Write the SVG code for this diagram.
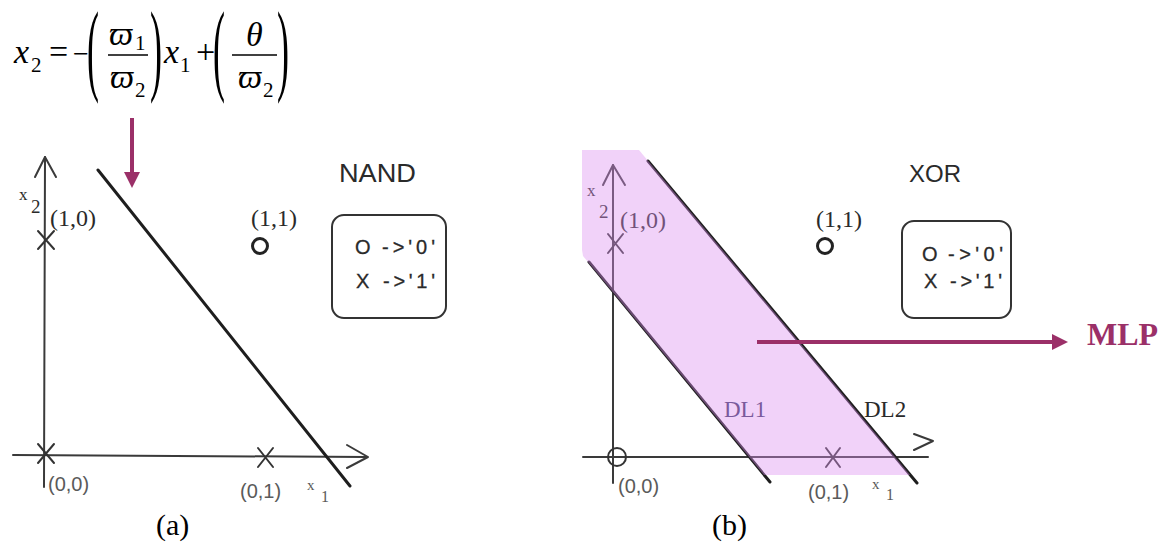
<svg xmlns="http://www.w3.org/2000/svg" width="1162" height="544" viewBox="0 0 1162 544">
<style>
.ax{stroke:#3a3a3a;stroke-width:2;fill:none;stroke-linecap:round;stroke-linejoin:round}
.dl{stroke:#1e1e1e;stroke-width:3;fill:none;stroke-linecap:round}
.mk{stroke:#333;stroke-width:2;fill:none;stroke-linecap:round}
.ser{font-family:"Liberation Serif","DejaVu Serif",serif;fill:#2a2a2a}
.san{font-family:"Liberation Sans","DejaVu Sans",sans-serif;fill:#2a2a2a}
.lg{font-family:"Liberation Sans","DejaVu Sans",sans-serif;fill:#2a2a2a;font-size:20px;stroke:#2a2a2a;stroke-width:0.3}
.grey{fill:#5a5a5a}
.blk{fill:#000}
.purp{fill:#7a5a9c}
.eq{font-family:"Liberation Serif","DejaVu Serif",serif;fill:#000}
.box{fill:none;stroke:#333;stroke-width:2}
.arr{stroke:#9b3068;stroke-width:4;fill:none}
.mlp{font-family:"Liberation Serif","DejaVu Serif",serif;font-weight:bold;fill:#9b3068}
</style>
<defs>
<marker id="ah" viewBox="0 0 16 16" markerWidth="16" markerHeight="16" refX="2" refY="8" orient="auto" markerUnits="userSpaceOnUse">
<path d="M0,0 L16,8 L0,16 z" fill="#9b3068"/>
</marker>
</defs>
<rect width="1162" height="544" fill="#fff"/>

<g id="equation" class="eq" font-size="34">
<text x="14" y="63" font-style="italic">x</text>
<text x="31" y="72" font-size="21">2</text>
<text x="49" y="63">=</text>
<text x="73" y="63" font-size="28">−</text>
<text transform="translate(87,82) scale(1,2.8)" font-size="36">(</text>
<text x="109" y="45" font-style="italic">ϖ</text>
<text x="135" y="50" font-size="21">1</text>
<line x1="108" y1="55" x2="148" y2="55" stroke="#000" stroke-width="1.5"/>
<text x="110" y="88" font-style="italic">ϖ</text>
<text x="135" y="97" font-size="21">2</text>
<text transform="translate(150,82) scale(1,2.8)" font-size="36">)</text>
<text x="164" y="63" font-style="italic">x</text>
<text x="180" y="72" font-size="21">1</text>
<text x="196" y="63">+</text>
<text transform="translate(213,82) scale(1,2.8)" font-size="36">(</text>
<text x="246" y="46" font-style="italic">θ</text>
<line x1="232" y1="55" x2="277" y2="55" stroke="#000" stroke-width="1.5"/>
<text x="238" y="88" font-style="italic">ϖ</text>
<text x="263" y="97" font-size="21">2</text>
<text transform="translate(277,82) scale(1,2.8)" font-size="36">)</text>
</g>

<g id="panel-a">
<g id="axes-a">
<path class="ax" d="M45,157 L44,487"/>
<path class="ax" d="M35,177 L45,157 L56,177"/>
<path class="ax" d="M13,455 L366,457"/>
<path class="ax" d="M347,445 L368,457 L347,468"/>
<text class="ser" x="19" y="200" font-size="17">x</text>
<text class="ser" x="31" y="213" font-size="19">2</text>
<text class="ser grey" x="307" y="490" font-size="15">x</text>
<text class="ser grey" x="321" y="502" font-size="16">1</text>
</g>
<g id="nand-line"><path class="dl" d="M98,170 L350,486"/></g>
<g id="pt-a10">
<path class="mk" d="M38,231 L54,249 M54,231 L38,249"/>
<text class="ser" x="50" y="226" font-size="24">(1,0)</text>
</g>
<g id="pt-a11">
<circle cx="260" cy="246" r="7.5" fill="none" stroke="#222" stroke-width="3"/>
<text class="ser" x="251" y="226" font-size="24">(1,1)</text>
</g>
<g id="pt-a00">
<path class="mk" d="M38,444 L54,463 M54,444 L38,463"/>
<text class="san grey" x="48" y="491" font-size="20">(0,0)</text>
</g>
<g id="pt-a01">
<path class="mk" d="M258,448 L273,467 M273,448 L258,467"/>
<text class="san grey" x="240" y="498" font-size="20">(0,1)</text>
</g>
<text id="title-a" class="san" x="339" y="182" font-size="25" textLength="77" lengthAdjust="spacingAndGlyphs">NAND</text>
<g id="legend-a">
<rect class="box" x="332" y="215" width="114" height="103" rx="12"/>
<text class="lg" x="355" y="254">O</text>
<text class="lg" x="382" y="254" textLength="53" lengthAdjust="spacing">-&gt;'0'</text>
<text class="lg" x="356" y="288">X</text>
<text class="lg" x="383" y="288" textLength="52" lengthAdjust="spacing">-&gt;'1'</text>
</g>
<text id="cap-a" class="ser blk" x="156" y="535" font-size="30">(a)</text>
</g>

<g id="panel-b">
<g id="axes-b">
<path class="ax" d="M613,165 L613,483"/>
<path class="ax" d="M603,185 L613,165 L625,185"/>
<path class="ax" d="M583,457 L928,457"/>
<path class="ax" d="M914,434 L933,441 L914,450"/>
<text class="ser" x="587" y="196" font-size="17">x</text>
<text class="ser" x="599" y="218" font-size="19">2</text>
<text class="ser grey" x="872" y="489" font-size="15">x</text>
<text class="ser grey" x="886" y="500" font-size="16">1</text>
</g>
<g id="dl1"><path class="dl" d="M589,262 L770,482"/></g>
<g id="dl2"><path class="dl" d="M648,161 L917,483"/></g>
<g id="pt-b10">
<path class="mk" d="M608,234 L623,253 M623,234 L608,253"/>
<text class="ser" x="620" y="228" font-size="24">(1,0)</text>
</g>
<g id="pt-b11">
<circle cx="825" cy="246" r="7.5" fill="none" stroke="#222" stroke-width="3"/>
<text class="ser" x="816" y="227" font-size="24">(1,1)</text>
</g>
<g id="pt-b00">
<circle cx="617" cy="457" r="9" fill="none" stroke="#333" stroke-width="2"/>
<text class="san grey" x="618" y="493" font-size="20">(0,0)</text>
</g>
<g id="pt-b01">
<path class="mk" d="M826,448 L840,467 M840,448 L826,467"/>
<text class="san grey" x="808" y="499" font-size="20">(0,1)</text>
</g>
<polygon id="region" points="582,150 639,150 910,475 764,475 583,256 582,250" fill="#dc8ef0" fill-opacity="0.4"/>
<text id="lbl-dl1" class="ser purp" x="724" y="417" font-size="23">DL1</text>
<text id="lbl-dl2" class="ser" x="864" y="417" font-size="23">DL2</text>
<text id="title-b" class="san" x="909" y="182" font-size="24">XOR</text>
<g id="legend-b">
<rect class="box" x="902" y="221" width="109" height="97" rx="12"/>
<text class="lg" x="922" y="261">O</text>
<text class="lg" x="948" y="261" textLength="55" lengthAdjust="spacing">-&gt;'0'</text>
<text class="lg" x="924" y="288">X</text>
<text class="lg" x="950" y="288" textLength="52" lengthAdjust="spacing">-&gt;'1'</text>
</g>
<text id="cap-b" class="ser blk" x="712" y="535" font-size="30">(b)</text>
</g>

<g id="connectors">
<line class="arr" x1="132" y1="118" x2="132" y2="174" marker-end="url(#ah)"/>
<line class="arr" x1="757" y1="342" x2="1054" y2="342" marker-end="url(#ah)"/>
</g>
<text id="mlp" class="mlp" x="1087" y="345" font-size="32">MLP</text>
</svg>
